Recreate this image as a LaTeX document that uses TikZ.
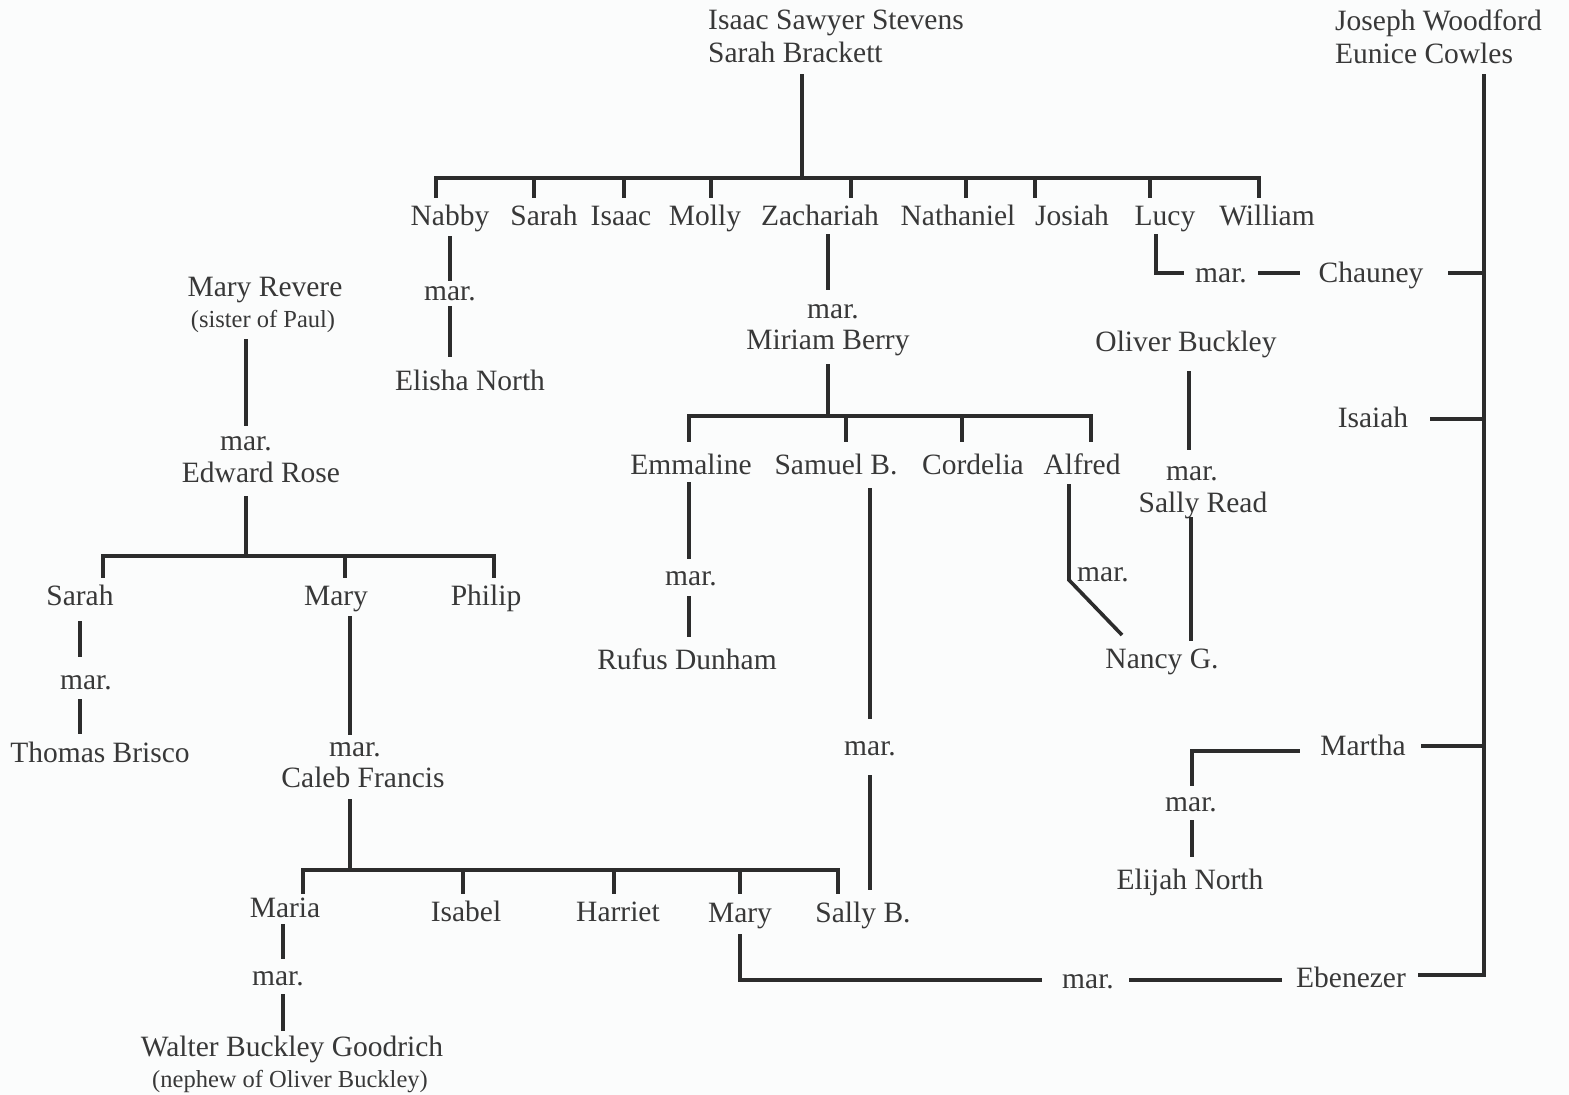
\documentclass[tikz,border=0pt]{standalone}
\usepackage{fontspec}
\setmainfont{Liberation Serif}
\definecolor{ink}{HTML}{383838}
\definecolor{rulec}{HTML}{2C2C2C}
\definecolor{paper}{HTML}{FBFCFC}
\begin{document}
\begin{tikzpicture}[x=1pt,y=-1pt,
  person/.style={text=ink,inner sep=0pt,yshift=-7pt,font=\fontsize{29.5}{33}\selectfont,text height=0.66em,text depth=0.22em},
  smallnote/.style={text=ink,inner sep=0pt,yshift=-7pt,font=\fontsize{24.5}{27}\selectfont,text height=0.66em,text depth=0.22em},
  twoline/.style={text=ink,inner sep=0pt,font=\fontsize{29.5}{33}\selectfont,align=left},
  link/.style={draw=rulec,line width=3.6pt,line cap=rect}]
\fill[paper] (0,0) rectangle (1569,1095);
\useasboundingbox (0,0) rectangle (1569,1095);

% ---------- Stevens family ----------
\node[twoline,anchor=north west] (stevens) at (708,10) {Isaac Sawyer Stevens\\Sarah Brackett};
\node[twoline,anchor=north west] (woodford) at (1335,10) {Joseph Woodford\\Eunice Cowles};

\node[person] (nabby) at (450,216) {Nabby};
\node[person] (sarahS) at (544,216) {Sarah};
\node[person] (isaac) at (621,216) {Isaac};
\node[person] (molly) at (705,216) {Molly};
\node[person] (zach) at (820,216) {Zachariah};
\node[person] (nath) at (958,216) {Nathaniel};
\node[person] (josiah) at (1072,216) {Josiah};
\node[person] (lucy) at (1165,216) {Lucy};
\node[person] (william) at (1267,216) {William};

\coordinate (sTop) at (802,76);
\coordinate (sBar) at (802,178);
\coordinate (sL) at (436,178);
\coordinate (sR) at (1259,178);
\draw[link] (sTop) -- (sBar);
\draw[link] (sL) -- (sR);
\foreach \xx in {436,534,624,711,851,966,1035,1150,1259}
  \draw[link] (\xx,178) -- (\xx,196);

% Nabby
\node[person] (nabbymar) at (450,291) {mar.};
\node[person] (elisha) at (470,381) {Elisha North};
\coordinate (nabA) at (450,238);
\coordinate (nabB) at (450,279);
\coordinate (nabC) at (450,308);
\coordinate (nabD) at (450,355);
\draw[link] (nabA) -- (nabB);
\draw[link] (nabC) -- (nabD);

% Lucy - Chauney
\node[person] (lucymar) at (1221,273) {mar.};
\node[person] (chauney) at (1371,273) {Chauney};
\coordinate (lucyC) at (1156,273);
\draw[link] (1156,236) -- (lucyC) -- (1182,273);
\draw[link] (1260,273) -- (1298,273);
\draw[link] (1450,273) -- (1484,273);

% Woodford children
\node[person] (isaiah) at (1373,418) {Isaiah};
\node[person] (martha) at (1363,746) {Martha};
\node[person] (ebenezer) at (1351,978) {Ebenezer};
\coordinate (wTop) at (1484,76);
\coordinate (wBot) at (1484,975);
\draw[link] (wTop) -- (wBot) -- (1420,975);
\draw[link] (1432,419) -- (1484,419);
\draw[link] (1423,746) -- (1484,746);

% Zachariah
\node[person] (zachmar) at (833,309) {mar.};
\node[person] (miriam) at (828,340) {Miriam Berry};
\draw[link] (828,236) -- (828,288);
\draw[link] (828,366) -- (828,413);
\draw[link] (689,416) -- (1091,416);
\foreach \xx in {689,846,962,1091}
  \draw[link] (\xx,416) -- (\xx,440);
\node[person] (emmaline) at (691,465) {Emmaline};
\node[person] (samuel) at (836,465) {Samuel B.};
\node[person] (cordelia) at (973,465) {Cordelia};
\node[person] (alfred) at (1082,465) {Alfred};

% Emmaline
\node[person] (emmar) at (691,576) {mar.};
\node[person] (rufus) at (687,660) {Rufus Dunham};
\draw[link] (689,484) -- (689,557);
\draw[link] (689,598) -- (689,635);

% Samuel B.
\node[person] (sammar) at (870,746) {mar.};
\draw[link] (870,490) -- (870,717);
\draw[link] (870,777) -- (870,888);

% Alfred - Nancy G.
\node[person] (alfmar) at (1103,572) {mar.};
\node[person] (nancy) at (1162,659) {Nancy G.};
\coordinate (alfK) at (1069,580);
\draw[link,line cap=butt] (1069,484) -- (alfK) -- (1122,635);

% Oliver Buckley
\node[person] (oliver) at (1186,342) {Oliver Buckley};
\node[person] (olimar) at (1192,471) {mar.};
\node[person] (sally) at (1203,503) {Sally Read};
\draw[link] (1189,373) -- (1189,448);
\draw[link] (1191,519) -- (1191,639);

% Martha - Elijah North
\node[person] (marmar) at (1191,802) {mar.};
\node[person] (elijah) at (1190,880) {Elijah North};
\coordinate (marC) at (1192,751);
\draw[link] (1298,751) -- (marC) -- (1192,784);
\draw[link] (1192,822) -- (1192,855);

% ---------- Revere family ----------
\node[person] (maryrev) at (265,287) {Mary Revere};
\node[smallnote] (sister) at (263,318) {(sister of Paul)};
\node[person] (revmar) at (246,441) {mar.};
\node[person] (edward) at (261,473) {Edward Rose};
\draw[link] (246,341) -- (246,424);
\draw[link] (246,498) -- (246,556);
\draw[link] (103,556) -- (494,556);
\foreach \xx in {103,345,494}
  \draw[link] (\xx,556) -- (\xx,576);
\node[person] (sarahR) at (80,596) {Sarah};
\node[person] (maryR) at (336,596) {Mary};
\node[person] (philip) at (486,596) {Philip};

% Sarah - Thomas Brisco
\node[person] (sarmar) at (86,680) {mar.};
\node[person] (thomas) at (100,753) {Thomas Brisco};
\draw[link] (80,623) -- (80,655);
\draw[link] (80,701) -- (80,732);

% Mary - Caleb Francis
\node[person] (marymar) at (355,747) {mar.};
\node[person] (caleb) at (363,778) {Caleb Francis};
\draw[link] (350,618) -- (350,733);
\draw[link] (350,801) -- (350,870);
\draw[link] (303,870) -- (838,870);
\foreach \xx in {303,463,614,740,838}
  \draw[link] (\xx,870) -- (\xx,892);
\node[person] (maria) at (285,908) {Maria};
\node[person] (isabel) at (466,912) {Isabel};
\node[person] (harriet) at (618,912) {Harriet};
\node[person] (maryF) at (740,913) {Mary};
\node[person] (sallyb) at (863,913) {Sally B.};

% Maria - Walter Buckley Goodrich
\node[person] (mariamar) at (278,976) {mar.};
\node[person] (walter) at (292,1047) {Walter Buckley Goodrich};
\node[smallnote] (nephew) at (290,1078) {(nephew of Oliver Buckley)};
\draw[link] (283,926) -- (283,957);
\draw[link] (283,996) -- (283,1029);

% Mary - Ebenezer
\node[person] (ebmar) at (1088,979) {mar.};
\coordinate (maryC) at (740,980);
\draw[link] (740,936) -- (maryC) -- (1040,980);
\draw[link] (1131,980) -- (1280,980);
\end{tikzpicture}
\end{document}
